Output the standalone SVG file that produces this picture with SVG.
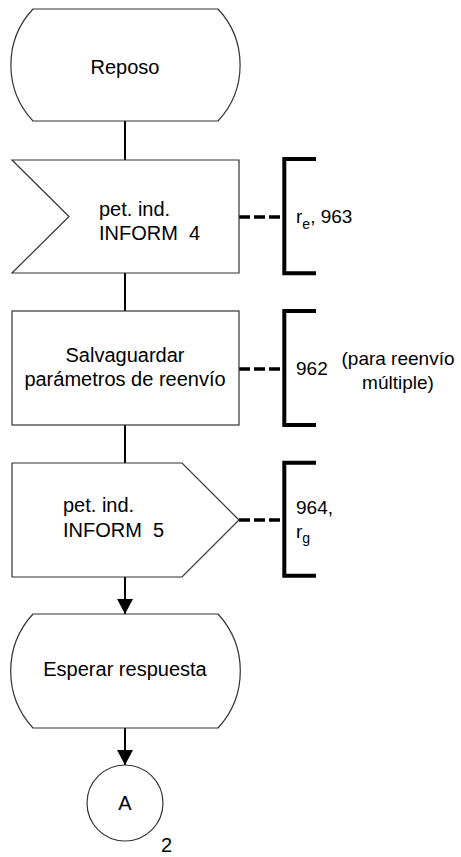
<svg xmlns="http://www.w3.org/2000/svg" width="461" height="857" viewBox="0 0 461 857">
<style>
.shape{fill:#fff;stroke:#333;stroke-width:1.2}
.t{font-family:"Liberation Sans",Arial,sans-serif;font-size:20px;fill:#000}
.a{font-family:"Liberation Sans",Arial,sans-serif;font-size:19px;fill:#000}
.sub{font-size:14px}
.line{stroke:#000;stroke-width:2;fill:none}
.dash{stroke:#000;stroke-width:3.5;stroke-dasharray:11 4;fill:none}
.br{stroke:#000;stroke-width:4;fill:none}
</style>
<defs>
<marker id="arrow" viewBox="0 0 15 16" refX="15" refY="8" markerWidth="15" markerHeight="16" markerUnits="userSpaceOnUse" orient="auto">
<path d="M0,0 L15,8 L0,16 Z" fill="#000"/>
</marker>
</defs>
<g id="connectors">
<line class="line" x1="125" y1="121" x2="125" y2="160"/>
<line class="line" x1="125" y1="273" x2="125" y2="311"/>
<line class="line" x1="125" y1="425" x2="125" y2="463"/>
<line class="line" x1="125" y1="577" x2="125" y2="614" marker-end="url(#arrow)"/>
<line class="line" x1="125" y1="728" x2="125" y2="765" marker-end="url(#arrow)"/>
<line class="dash" x1="239" y1="217" x2="283" y2="217"/>
<line class="dash" x1="239" y1="369" x2="283" y2="369"/>
<line class="dash" x1="239" y1="520" x2="283" y2="520"/>
</g>
<g id="reposo">
<path class="shape" d="M33,9 H218 A82,82 0 0 1 218,121 H33 A82,82 0 0 1 33,9 Z"/>
<text class="t" x="125" y="74" text-anchor="middle">Reposo</text>
</g>
<g id="input">
<path class="shape" d="M12,160 H239 V273 H12 L69,216.5 Z"/>
<text class="t" x="99" y="216">pet. ind.</text>
<text class="t" x="99" y="240" xml:space="preserve">INFORM  4</text>
</g>
<g id="note1">
<path class="br" d="M316,159 H284.3 V273.3 H316"/>
<text class="a" x="296" y="223">r<tspan class="sub" dy="6">e</tspan><tspan dy="-6">, 963</tspan></text>
</g>
<g id="task">
<rect class="shape" x="12" y="311" width="227" height="114"/>
<text class="t" x="125" y="362" text-anchor="middle">Salvaguardar</text>
<text class="t" x="125" y="386" text-anchor="middle">parámetros de reenvío</text>
</g>
<g id="note2">
<path class="br" d="M316,311 H284.3 V425 H316"/>
<text class="a" x="296" y="375">962</text>
<text class="a" x="398" y="365" text-anchor="middle">(para reenvío</text>
<text class="a" x="398" y="389" text-anchor="middle">múltiple)</text>
</g>
<g id="output">
<path class="shape" d="M12,463 H182 L239,520 L182,577 H12 Z"/>
<text class="t" x="63" y="512">pet. ind.</text>
<text class="t" x="63" y="537" xml:space="preserve">INFORM  5</text>
</g>
<g id="note3">
<path class="br" d="M316,462.7 H284.3 V575.7 H316"/>
<text class="a" x="296" y="514">964,</text>
<text class="a" x="296" y="538">r<tspan class="sub" dy="5">g</tspan></text>
</g>
<g id="esperar">
<path class="shape" d="M33,614 H218 A84,84 0 0 1 218,728 H33 A84,84 0 0 1 33,614 Z"/>
<text class="t" x="125" y="676" text-anchor="middle">Esperar respuesta</text>
</g>
<g id="connectorA">
<circle class="shape" cx="125" cy="803" r="38"/>
<text class="t" x="125" y="810" text-anchor="middle">A</text>
<text class="t" x="161" y="852">2</text>
</g>
</svg>
